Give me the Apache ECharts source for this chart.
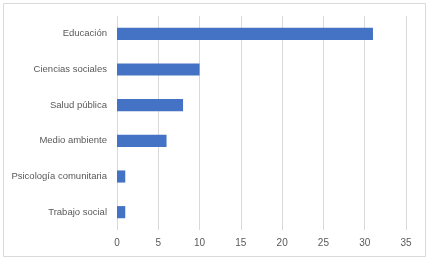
<!DOCTYPE html>
<html><head><meta charset="utf-8">
<script src="https://cdn.jsdelivr.net/npm/echarts@6/dist/echarts.min.js"></script>
<style>html,body{margin:0;padding:0;background:#fff}#c{width:430px;height:260px}</style>
</head><body><div id="c"></div>
<script>
const categories = ["Educación","Ciencias sociales","Salud pública","Medio ambiente","Psicología comunitaria","Trabajo social"];
const values = [31,10,8,6,1,1];
const xTicks = [0,5,10,15,20,25,30,35];

const chart = echarts.init(document.getElementById('c'));
chart.setOption({
  animation:false,
  backgroundColor:'#fff',
  graphic:[{type:'rect',shape:{x:3.5,y:3.5,width:422,height:253},style:{fill:'none',stroke:'#d9d9d9',lineWidth:1}}],
  grid:{left:117,right:24,top:16,bottom:30,containLabel:false},
  xAxis:{type:'value',min:xTicks[0],max:xTicks[xTicks.length-1],interval:5,
    axisLine:{show:false},axisTick:{show:false},
    splitLine:{lineStyle:{color:'#d9d9d9',width:1}},
    axisLabel:{color:'#595959',fontSize:10,fontFamily:'Liberation Sans',margin:8}},
  yAxis:{type:'category',data:categories,inverse:true,
    axisLine:{show:false},axisTick:{show:false},
    axisLabel:{color:'#595959',fontSize:9.5,fontFamily:'Liberation Sans',margin:10}},
  series:[{type:'bar',data:values,barCategoryGap:'66%',itemStyle:{color:'#4472C4'}}]
});
</script></body></html>
